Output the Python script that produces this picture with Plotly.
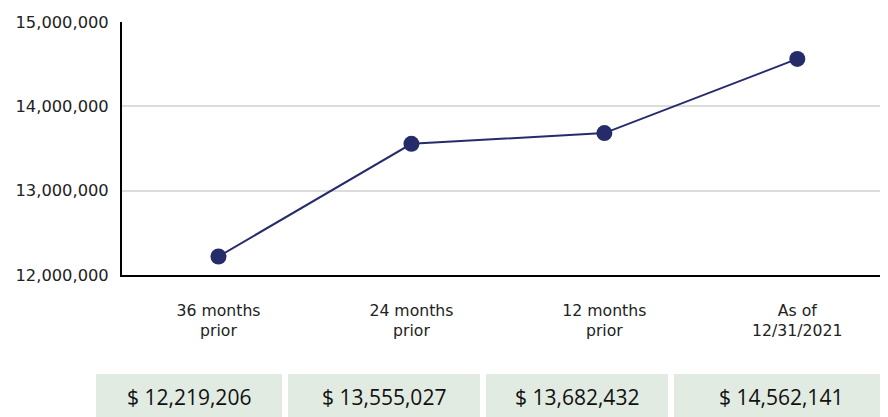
import plotly.graph_objects as go

categories = ["36 months<br>prior", "24 months<br>prior", "12 months<br>prior", "As of<br>12/31/2021"]
values = [12219206, 13555027, 13682432, 14562141]
y_ticks = [12000000, 13000000, 14000000, 15000000]

OFF = 8  # page body margin
W, H = 888 - OFF, 417 - OFF
L, R, T, B = 122 - OFF, 0, 22 - OFF, 142
pw, ph = W - L - R, H - T - B

def px_x(p):
    return (p - OFF - L) / pw

def px_y(p):
    return (H - B - (p - OFF)) / ph

navy = "#262c6a"
fig = go.Figure()
fig.add_trace(go.Scatter(
    x=list(range(len(values))), y=values, mode="lines+markers",
    line=dict(color=navy, width=2),
    marker=dict(color=navy, size=16),
    hoverinfo="skip", showlegend=False, cliponaxis=False,
))

# value boxes beneath the chart
boxes = [(96, 282), (288, 480), (486, 668), (674, 888)]
for (x0, x1), v in zip(boxes, values):
    fig.add_shape(type="rect", xref="paper", yref="paper",
                  x0=px_x(x0), x1=px_x(x1), y0=px_y(374), y1=px_y(420),
                  fillcolor="#e2ebe2", line=dict(width=0), layer="below")
    fig.add_annotation(xref="paper", yref="paper", x=px_x((x0 + x1) / 2), y=px_y(397),
                       text=f"$ {v:,}", showarrow=False, xanchor="center", yanchor="middle",
                       font=dict(family="Open Sans, Liberation Sans, sans-serif", size=21, color="#111"))

fig.update_layout(
    width=W, height=H,
    margin=dict(l=L, r=R, t=T, b=B, pad=0),
    paper_bgcolor="white", plot_bgcolor="white",
    font=dict(family="Verdana, DejaVu Sans, sans-serif", size=16, color="#222"),
    xaxis=dict(
        range=[-0.5, 3.47], tickmode="array", tickvals=list(range(len(categories))),
        ticktext=categories, showgrid=False, zeroline=False,
        showline=True, linecolor="black", linewidth=2, ticks="", ticklabelstandoff=20,
        tickfont=dict(size=15.7),
    ),
    yaxis=dict(
        range=[12000000, 15000000], tickmode="array", tickvals=y_ticks,
        ticktext=[f"{t:,}" for t in y_ticks], showgrid=True, gridcolor="#dcdcdc", gridwidth=2,
        zeroline=False, showline=True, linecolor="black", linewidth=2, ticks="",
        ticklabelstandoff=8, tickfont=dict(size=16.3),
    ),
)

fig.write_html("out.html")
